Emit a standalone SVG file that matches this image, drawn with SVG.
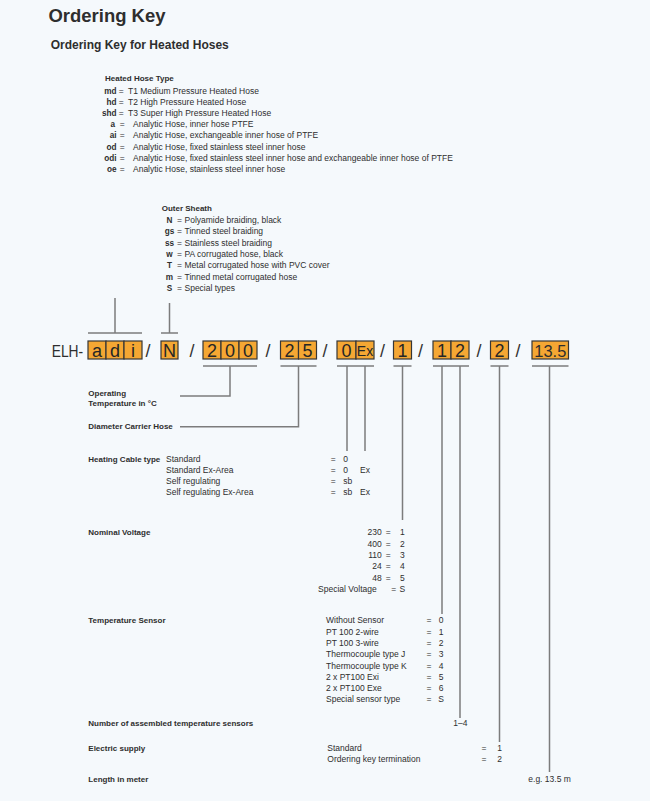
<svg xmlns="http://www.w3.org/2000/svg" width="650" height="801" viewBox="0 0 650 801">
<style>
text{font-family:"Liberation Sans",Arial,sans-serif;fill:#2e2e2e}
.t{font-size:8.5px}
.b{font-size:8px;font-weight:bold}
.c{font-size:8.2px;font-weight:bold}
.m{text-anchor:middle}
.e{text-anchor:end}
.box{fill:#F5A733;stroke:#363636;stroke-width:1.2}
.k{font-size:18px;text-anchor:middle;fill:#262626}
.kx{font-size:14px;text-anchor:middle;fill:#262626}
.sl{font-size:18px;text-anchor:middle;fill:#333}
.ln{stroke:#7c7c7c;stroke-width:1.5;fill:none}
</style>
<rect width="650" height="801" fill="#F5F9FC"/>
<g id="title">
<text x="48.5" y="22" font-size="19" font-weight="bold" textLength="117" lengthAdjust="spacingAndGlyphs">Ordering Key</text>
<text x="50.7" y="49.3" font-size="12" font-weight="bold">Ordering Key for Heated Hoses</text>
</g>
<g id="heated-hose-type">
<text class="b" x="105" y="81">Heated Hose Type</text>
<g class="t">
<text class="c e" x="116.5" y="93.5">md</text><text x="121.2" y="93.5" class="m">=</text><text x="128" y="93.5">T1 Medium Pressure Heated Hose</text>
<text class="c e" x="116.5" y="104.7">hd</text><text x="121.2" y="104.7" class="m">=</text><text x="128" y="104.7">T2 High Pressure Heated Hose</text>
<text class="c e" x="116.5" y="115.9">shd</text><text x="121.2" y="115.9" class="m">=</text><text x="128" y="115.9">T3 Super High Pressure Heated Hose</text>
<text class="c e" x="115" y="127.1">a</text><text x="122.2" y="127.1" class="m">=</text><text x="133" y="127.1">Analytic Hose, inner hose PTFE</text>
<text class="c e" x="116.5" y="138.3">ai</text><text x="122.2" y="138.3" class="m">=</text><text x="133" y="138.3">Analytic Hose, exchangeable inner hose of PTFE</text>
<text class="c e" x="116.5" y="149.5">od</text><text x="122.2" y="149.5" class="m">=</text><text x="133" y="149.5">Analytic Hose, fixed stainless steel inner hose</text>
<text class="c e" x="116.5" y="160.7">odi</text><text x="122.2" y="160.7" class="m">=</text><text x="133" y="160.7">Analytic Hose, fixed stainless steel inner hose and exchangeable inner hose of PTFE</text>
<text class="c e" x="116.5" y="171.9">oe</text><text x="122.2" y="171.9" class="m">=</text><text x="133" y="171.9">Analytic Hose, stainless steel inner hose</text>
</g>
</g>
<g id="outer-sheath">
<text class="b" x="161.7" y="210.7">Outer Sheath</text>
<g class="t">
<text class="c m" x="169.5" y="222.7">N</text><text x="179.5" y="222.7" class="m">=</text><text x="184.5" y="222.7">Polyamide braiding, black</text>
<text class="c m" x="169.5" y="234.1">gs</text><text x="179.5" y="234.1" class="m">=</text><text x="184.5" y="234.1">Tinned steel braiding</text>
<text class="c m" x="169.5" y="245.5">ss</text><text x="179.5" y="245.5" class="m">=</text><text x="184.5" y="245.5">Stainless steel braiding</text>
<text class="c m" x="169.5" y="256.9">w</text><text x="179.5" y="256.9" class="m">=</text><text x="184.5" y="256.9">PA corrugated hose, black</text>
<text class="c m" x="169.5" y="268.3">T</text><text x="179.5" y="268.3" class="m">=</text><text x="184.5" y="268.3">Metal corrugated hose with PVC cover</text>
<text class="c m" x="169.5" y="279.7">m</text><text x="179.5" y="279.7" class="m">=</text><text x="184.5" y="279.7">Tinned metal corrugated hose</text>
<text class="c m" x="169.5" y="291.1">S</text><text x="179.5" y="291.1" class="m">=</text><text x="184.5" y="291.1">Special types</text>
</g>
</g>
<g id="code-row">
<text x="51.7" y="357" font-size="17" textLength="31.5" lengthAdjust="spacingAndGlyphs">ELH-</text>
<rect class="box" x="88" y="341" width="18" height="18"/><rect class="box" x="106" y="341" width="18" height="18"/><rect class="box" x="124" y="341" width="18" height="18"/>
<text class="k" x="97" y="356.5">a</text><text class="k" x="115" y="356.5">d</text><text class="k" x="133" y="356.5">i</text>
<text class="sl" x="148" y="357">/</text>
<rect class="box" x="161" y="341" width="17" height="18"/><text class="k" x="169.5" y="356.5">N</text>
<text class="sl" x="192" y="357">/</text>
<rect class="box" x="203" y="341" width="18" height="18"/><rect class="box" x="221" y="341" width="18" height="18"/><rect class="box" x="239" y="341" width="18" height="18"/>
<text class="k" x="212" y="356.5">2</text><text class="k" x="230" y="356.5">0</text><text class="k" x="248" y="356.5">0</text>
<text class="sl" x="268" y="357">/</text>
<rect class="box" x="280.5" y="341" width="18" height="18"/><rect class="box" x="298.5" y="341" width="18" height="18"/>
<text class="k" x="289.5" y="356.5">2</text><text class="k" x="307.5" y="356.5">5</text>
<text class="sl" x="325" y="357">/</text>
<rect class="box" x="337" y="341" width="19" height="18"/><rect class="box" x="356" y="341" width="18" height="18"/>
<text class="k" x="346.5" y="356.5">0</text><text class="kx" x="365" y="355.5">Ex</text>
<text class="sl" x="382.5" y="357">/</text>
<rect class="box" x="393.5" y="341" width="18" height="18"/><text class="k" x="402.5" y="356.5">1</text>
<text class="sl" x="420.5" y="357">/</text>
<rect class="box" x="433" y="341" width="18" height="18"/><rect class="box" x="451" y="341" width="18" height="18"/>
<text class="k" x="442" y="356.5">1</text><text class="k" x="460" y="356.5">2</text>
<text class="sl" x="479" y="357">/</text>
<rect class="box" x="490.5" y="341" width="18" height="18"/><text class="k" x="499.5" y="356.5">2</text>
<text class="sl" x="518" y="357">/</text>
<rect class="box" x="532" y="341" width="36.5" height="18"/><text x="534.3" y="356.5" font-size="17" textLength="32" lengthAdjust="spacingAndGlyphs" fill="#262626">13.5</text>
</g>
<g id="connectors" class="ln">
<path d="M88,333H142M115,333V298"/>
<path d="M161,333H178M169.5,333V303"/>
<path d="M203,366H257M230,366V396H180"/>
<path d="M280.5,366H316.5M298.5,366V426.7H180"/>
<path d="M337,366H374M347,366V451M365,366V451"/>
<path d="M393.5,366H411.5M402.5,366V520"/>
<path d="M433,366H469M442,366V614M460,366V718"/>
<path d="M490.5,366H508.5M499.5,366V742"/>
<path d="M532,366H568.5M549.5,366V772"/>
</g>
<g id="operating-temperature">
<text class="b" x="88.3" y="395.7">Operating</text>
<text class="b" x="88.3" y="405.7">Temperature in °C</text>
</g>
<g id="diameter">
<text class="b" x="88.3" y="429.3">Diameter Carrier Hose</text>
</g>
<g id="heating-cable" class="t">
<text class="b" x="88.3" y="461.7">Heating Cable type</text>
<text x="166" y="461.7">Standard</text><text x="333.3" y="461.7" class="m">=</text><text x="343.3" y="461.7">0</text>
<text x="166" y="472.9">Standard Ex-Area</text><text x="333.3" y="472.9" class="m">=</text><text x="343.3" y="472.9">0</text><text x="360" y="472.9">Ex</text>
<text x="166" y="484.1">Self regulating</text><text x="333.3" y="484.1" class="m">=</text><text x="343.3" y="484.1">sb</text>
<text x="166" y="495.3">Self regulating Ex-Area</text><text x="333.3" y="495.3" class="m">=</text><text x="343.3" y="495.3">sb</text><text x="360" y="495.3">Ex</text>
</g>
<g id="nominal-voltage" class="t">
<text class="b" x="88.3" y="535">Nominal Voltage</text>
<text x="381.7" y="535.3" class="e">230</text><text x="388.3" y="535.3" class="m">=</text><text x="402.3" y="535.3" class="m">1</text>
<text x="381.7" y="546.6" class="e">400</text><text x="388.3" y="546.6" class="m">=</text><text x="402.3" y="546.6" class="m">2</text>
<text x="381.7" y="557.9" class="e">110</text><text x="388.3" y="557.9" class="m">=</text><text x="402.3" y="557.9" class="m">3</text>
<text x="381.7" y="569.2" class="e">24</text><text x="388.3" y="569.2" class="m">=</text><text x="402.3" y="569.2" class="m">4</text>
<text x="381.7" y="580.5" class="e">48</text><text x="388.3" y="580.5" class="m">=</text><text x="402.3" y="580.5" class="m">5</text>
<text x="376.7" y="591.8" class="e">Special Voltage</text><text x="393.8" y="591.8" class="m">=</text><text x="402.3" y="591.8" class="m">S</text>
</g>
<g id="temperature-sensor" class="t">
<text class="b" x="88.3" y="623.3">Temperature Sensor</text>
<text x="326" y="623.3">Without Sensor</text><text x="429" y="623.3" class="m">=</text><text x="441" y="623.3" class="m">0</text>
<text x="326" y="634.6">PT 100 2-wire</text><text x="429" y="634.6" class="m">=</text><text x="441" y="634.6" class="m">1</text>
<text x="326" y="645.9">PT 100 3-wire</text><text x="429" y="645.9" class="m">=</text><text x="441" y="645.9" class="m">2</text>
<text x="326" y="657.2">Thermocouple type J</text><text x="429" y="657.2" class="m">=</text><text x="441" y="657.2" class="m">3</text>
<text x="326" y="668.5">Thermocouple type K</text><text x="429" y="668.5" class="m">=</text><text x="441" y="668.5" class="m">4</text>
<text x="326" y="679.8">2 x PT100 Exi</text><text x="429" y="679.8" class="m">=</text><text x="441" y="679.8" class="m">5</text>
<text x="326" y="691.1">2 x PT100 Exe</text><text x="429" y="691.1" class="m">=</text><text x="441" y="691.1" class="m">6</text>
<text x="326" y="702.4">Special sensor type</text><text x="429" y="702.4" class="m">=</text><text x="441" y="702.4" class="m">S</text>
</g>
<g id="sensor-count" class="t">
<text class="b" x="88.3" y="726">Number of assembled temperature sensors</text>
<text x="453.3" y="726">1–4</text>
</g>
<g id="electric-supply" class="t">
<text class="b" x="88.3" y="751">Electric supply</text>
<text x="327.3" y="751">Standard</text><text x="484" y="751" class="m">=</text><text x="499.5" y="751" class="m">1</text>
<text x="327.3" y="762.3">Ordering key termination</text><text x="484" y="762.3" class="m">=</text><text x="499.5" y="762.3" class="m">2</text>
</g>
<g id="length" class="t">
<text class="b" x="88.3" y="781.7">Length in meter</text>
<text x="528.3" y="781.7">e.g. 13.5 m</text>
</g>
</svg>
